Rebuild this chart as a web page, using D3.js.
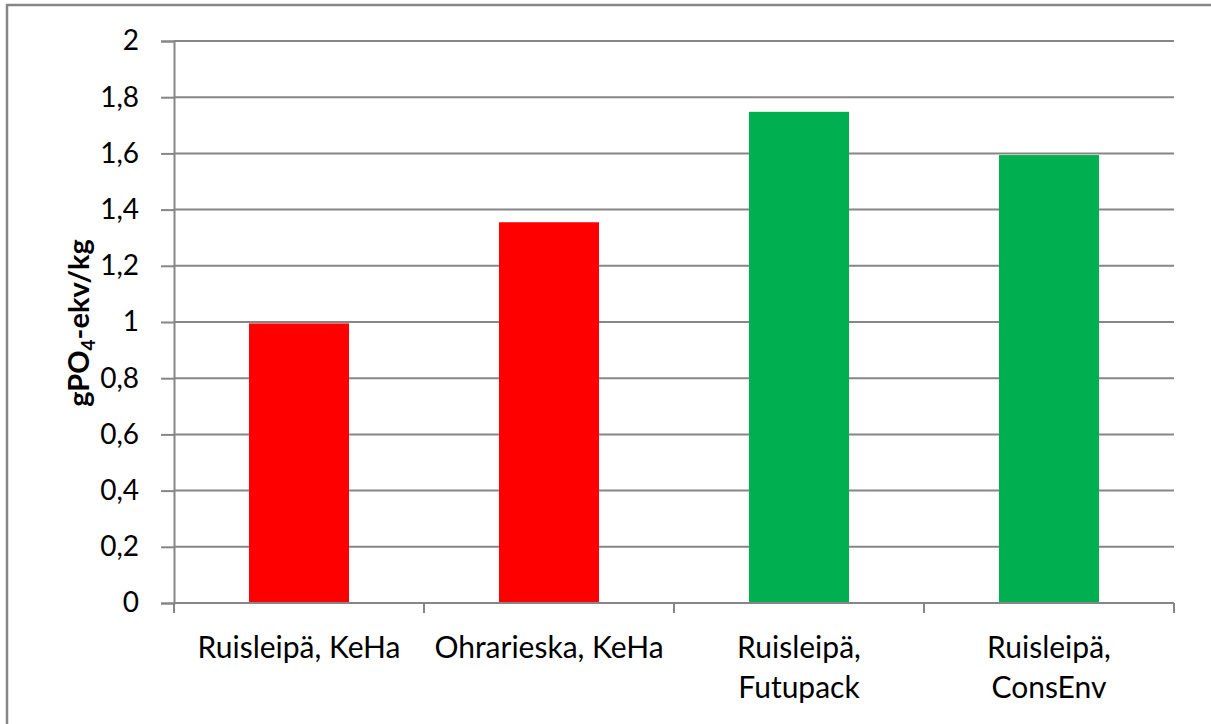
<!DOCTYPE html>
<html><head><meta charset="utf-8">
<script src="https://cdn.jsdelivr.net/npm/d3@7"></script>
<style>body{margin:0;background:#fff}svg{display:block}</style>
</head><body>
<svg id="c" width="1211" height="724"></svg>
<script>
const categories = [["Ruisleipä, KeHa"], ["Ohrarieska, KeHa"], ["Ruisleipä,", "Futupack"], ["Ruisleipä,", "ConsEnv"]];
const values = [0.995, 1.355, 1.748, 1.594];
const barColors = ["#FF0000", "#FF0000", "#00B050", "#00B050"];
const yTicks = [0, 0.2, 0.4, 0.6, 0.8, 1, 1.2, 1.4, 1.6, 1.8, 2];

const svg = d3.select("#c");
const font = "Lato, 'Open Sans', sans-serif";
const gridColor = "#868686";

// outer frame
svg.append("rect").attr("x", 7).attr("y", 5).attr("width", 1230).attr("height", 760)
  .attr("fill", "none").attr("stroke", gridColor).attr("stroke-width", 2.5);

const x = d3.scaleBand().domain(d3.range(categories.length)).range([174, 1174]).paddingInner(0.6).paddingOuter(0.3);
const xb = d3.scaleBand().domain(d3.range(categories.length)).range([174, 1174]);
const y = d3.scaleLinear().domain([0, 2]).range([603, 41]);

// gridlines
svg.append("g").selectAll("line").data(yTicks.filter(t => t > 0)).join("line")
  .attr("x1", 174).attr("x2", 1174).attr("y1", d => y(d)).attr("y2", d => y(d))
  .attr("stroke", gridColor).attr("stroke-width", 2);

// bars
svg.append("g").selectAll("rect").data(values).join("rect")
  .attr("x", (d, i) => x(i)).attr("width", x.bandwidth())
  .attr("y", d => y(d)).attr("height", d => y(0) - y(d))
  .attr("fill", (d, i) => barColors[i]);

// y axis
const yAxis = d3.axisLeft(y).tickValues(yTicks).tickSize(13).tickPadding(22)
  .tickFormat(d => d3.format("")(d).replace(".", ","));
const gy = svg.append("g").attr("transform", "translate(174,0)").call(yAxis);
gy.select(".domain").attr("stroke", gridColor).attr("stroke-width", 2);
gy.selectAll(".tick line").attr("stroke", gridColor).attr("stroke-width", 2);
gy.selectAll(".tick text").attr("font-family", font).attr("font-size", 28).attr("fill", "#000");

// x axis
const gx = svg.append("g").attr("transform", "translate(0,603)");
gx.append("line").attr("x1", 174).attr("x2", 1174).attr("y1", 0).attr("y2", 0)
  .attr("stroke", gridColor).attr("stroke-width", 2);
gx.selectAll("line.tk").data(d3.range(categories.length + 1)).join("line").attr("class", "tk")
  .attr("x1", d => d < categories.length ? xb(d) : xb.range()[1])
  .attr("x2", d => d < categories.length ? xb(d) : xb.range()[1])
  .attr("y1", 0).attr("y2", 10).attr("stroke", gridColor).attr("stroke-width", 2);
const lab = gx.selectAll("text").data(categories).join("text")
  .attr("font-family", font).attr("font-size", 30).attr("text-anchor", "middle").attr("fill", "#000");
lab.each(function(lines, i) {
  const t = d3.select(this);
  lines.forEach((ln, j) => {
    t.append("tspan").attr("x", xb(i) + xb.bandwidth() / 2).attr("y", 55 + j * 40).text(ln);
  });
});

// y title
const yt = svg.append("text").attr("transform", "translate(89,323) rotate(-90)")
  .attr("text-anchor", "middle").attr("font-family", font).attr("font-size", 29).attr("font-weight", "bold").attr("fill", "#000");
yt.append("tspan").text("gPO");
yt.append("tspan").attr("font-size", 19).attr("dy", 6).text("4");
yt.append("tspan").attr("dy", -6).text("-ekv/kg");
</script>
</body></html>
